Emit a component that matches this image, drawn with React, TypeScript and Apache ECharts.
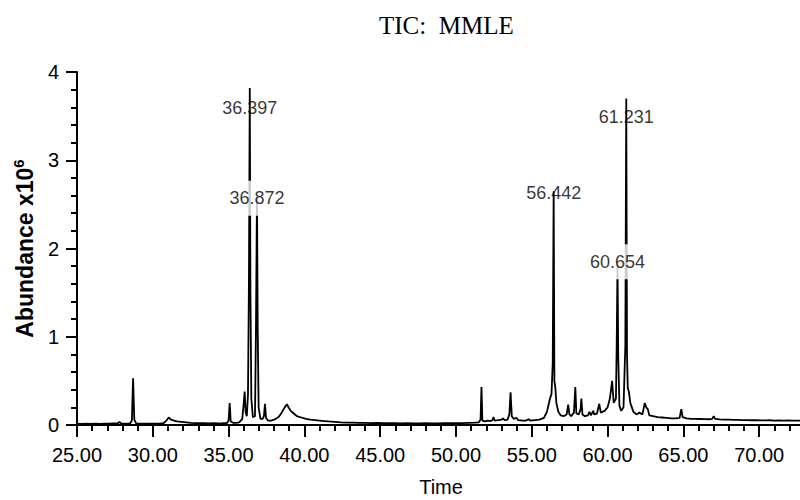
import React, { useEffect, useRef } from 'react';
import * as echarts from 'echarts';

// Total ion chromatogram: [retention time (min), abundance x10^6]
const ticEarly: number[][] = [
  [25.0, 0.015], [25.3, 0.012], [25.6, 0.016], [25.9, 0.013], [26.2, 0.015], [26.5, 0.012],
  [26.8, 0.016], [27.1, 0.014], [27.4, 0.017], [27.7, 0.02], [27.8, 0.035], [27.9, 0.018],
  [28.2, 0.016], [28.5, 0.017], [28.62, 0.05], [28.7, 0.53], [28.78, 0.06], [28.9, 0.018],
  [29.2, 0.015], [29.5, 0.016], [29.8, 0.014], [30.1, 0.016], [30.4, 0.015], [30.7, 0.02],
  [30.9, 0.05], [31.05, 0.085], [31.2, 0.06], [31.4, 0.05], [31.6, 0.04], [31.9, 0.035],
  [32.2, 0.03], [32.5, 0.025], [32.8, 0.022], [33.1, 0.02], [33.4, 0.021], [33.7, 0.018],
  [34.0, 0.02], [34.3, 0.019], [34.6, 0.02], [34.9, 0.022], [35.0, 0.05], [35.07, 0.25],
  [35.14, 0.04], [35.3, 0.025], [35.5, 0.024], [35.7, 0.03], [35.9, 0.07], [36.0, 0.25],
  [36.06, 0.38], [36.12, 0.15], [36.2, 0.1],
];

const ticMainPeaks: number[][] = [
  [36.28, 0.35], [36.34, 1.6], [36.397, 3.82], [36.44, 1.5], [36.5, 0.3], [36.6, 0.09],
  [36.74, 0.1], [36.8, 1.0], [36.872, 2.6], [36.92, 1.1], [36.98, 0.2], [37.1, 0.07],
  [37.25, 0.07], [37.33, 0.1], [37.4, 0.24], [37.47, 0.08], [37.6, 0.05], [37.8, 0.05],
  [38.0, 0.06], [38.3, 0.09], [38.5, 0.14], [38.7, 0.2], [38.85, 0.235], [38.95, 0.2],
  [39.1, 0.16], [39.3, 0.13], [39.5, 0.1], [39.8, 0.085],
];

const ticMiddle: number[][] = [
  [40.1, 0.07], [40.4, 0.06], [40.7, 0.055], [41.0, 0.05], [41.3, 0.045], [41.6, 0.04],
  [42.0, 0.035], [42.4, 0.03], [42.8, 0.028], [43.2, 0.026], [43.6, 0.024], [44.0, 0.025],
  [44.4, 0.022], [44.8, 0.023], [45.2, 0.02], [45.6, 0.021], [46.0, 0.022], [46.4, 0.019],
  [46.8, 0.02], [47.2, 0.019], [47.6, 0.018], [48.0, 0.02], [48.4, 0.019], [48.8, 0.018],
  [49.2, 0.02], [49.6, 0.021], [50.0, 0.022], [50.4, 0.021], [50.8, 0.024], [51.2, 0.026],
  [51.5, 0.03], [51.62, 0.06], [51.68, 0.43], [51.74, 0.05], [51.9, 0.04], [52.1, 0.05],
  [52.3, 0.045], [52.42, 0.06], [52.47, 0.09], [52.55, 0.05], [52.8, 0.055], [53.0, 0.06],
  [53.1, 0.075], [53.2, 0.055], [53.4, 0.06], [53.52, 0.12], [53.6, 0.37], [53.68, 0.1],
  [53.8, 0.07], [54.0, 0.08], [54.1, 0.055], [54.4, 0.05], [54.6, 0.05], [54.8, 0.065],
  [54.9, 0.05], [55.2, 0.055], [55.5, 0.06], [55.8, 0.08],
];

const ticLate: number[][] = [
  [56.0, 0.15], [56.2, 0.3], [56.3, 0.35], [56.38, 0.7], [56.442, 2.65], [56.49, 0.5],
  [56.55, 0.43], [56.62, 0.25], [56.75, 0.15], [56.9, 0.11], [57.1, 0.1], [57.3, 0.12],
  [57.4, 0.23], [57.48, 0.12], [57.6, 0.1], [57.78, 0.14], [57.87, 0.43], [57.94, 0.13],
  [58.1, 0.12], [58.22, 0.18], [58.27, 0.3], [58.34, 0.12], [58.5, 0.1], [58.7, 0.11],
  [58.8, 0.15], [58.9, 0.11], [59.05, 0.16], [59.12, 0.12], [59.3, 0.13], [59.45, 0.24],
  [59.55, 0.14], [59.8, 0.16], [60.0, 0.2], [60.15, 0.3], [60.3, 0.5], [60.4, 0.25],
  [60.55, 0.3], [60.6, 0.9], [60.654, 1.85], [60.7, 0.8], [60.78, 0.22], [60.9, 0.16],
  [61.05, 0.2], [61.17, 0.9], [61.231, 3.7], [61.28, 0.8], [61.33, 0.42], [61.4, 0.38],
  [61.5, 0.25], [61.6, 0.2], [61.7, 0.15], [61.9, 0.12], [62.1, 0.14], [62.3, 0.12],
  [62.45, 0.25], [62.55, 0.2], [62.65, 0.18], [62.75, 0.11],
];

const ticTail: number[][] = [
  [63.0, 0.1], [63.3, 0.09], [63.6, 0.085], [63.9, 0.08], [64.2, 0.075], [64.5, 0.075],
  [64.75, 0.08], [64.86, 0.18], [64.95, 0.09], [65.2, 0.075], [65.5, 0.07], [65.8, 0.07],
  [66.1, 0.068], [66.4, 0.066], [66.7, 0.065], [66.9, 0.07], [67.0, 0.1], [67.1, 0.07],
  [67.4, 0.063], [67.7, 0.06], [68.0, 0.06], [68.3, 0.058], [68.6, 0.057], [68.9, 0.055],
  [69.2, 0.056], [69.5, 0.054], [69.8, 0.055], [70.1, 0.053], [70.4, 0.052], [70.7, 0.054],
  [71.0, 0.05], [71.3, 0.052], [71.6, 0.05], [71.9, 0.051], [72.2, 0.049], [72.5, 0.05],
  [72.8, 0.048], [73.1, 0.049],
];

// Peak annotations: retention time and the abundance at which the label sits
const peakLabelTimes = [36.397, 36.872, 56.442, 60.654, 61.231];
const peakLabelAnchors = [3.59, 2.57, 2.63, 1.85, 3.49];

const xTicks = { min: 25, max: 75, interval: 5 };
const yTicks = { min: 0, max: 4, interval: 1 };

const SANS = '"Liberation Sans", Arial, sans-serif';

export default function App() {
  const ref = useRef<HTMLDivElement>(null);

  useEffect(() => {
    const chart = echarts.init(ref.current!, null, { renderer: 'svg' });
    const tic = [...ticEarly, ...ticMainPeaks, ...ticMiddle, ...ticLate, ...ticTail];
    const boxed = new Set([36.872, 60.654]);
    const labelData = peakLabelTimes.map((t, i) => ({
      value: [t, peakLabelAnchors[i]],
      label: boxed.has(t)
        ? { backgroundColor: '#ffffff', padding: [9, 1, 8, 1] }
        : { backgroundColor: 'transparent', padding: 0 },
    }));

    chart.setOption({
      animation: false,
      backgroundColor: '#ffffff',
      title: {
        text: 'TIC:  MMLE',
        left: 374,
        top: 8,
        textStyle: {
          fontFamily: '"Liberation Serif", "DejaVu Serif", serif',
          fontSize: 25,
          fontWeight: 'normal',
          color: '#000',
        },
      },
      grid: { left: 77, right: -35, top: 72, bottom: 75, containLabel: false, outerBoundsMode: 'none' },
      xAxis: {
        type: 'value',
        min: xTicks.min,
        max: xTicks.max,
        interval: xTicks.interval,
        name: 'Time',
        nameLocation: 'middle',
        nameGap: 52,
        nameTextStyle: { fontFamily: SANS, fontSize: 20, color: '#000', padding: [0, 30, 0, 0] },
        axisLine: { show: true, lineStyle: { color: '#000', width: 2 } },
        axisTick: { show: true, length: 12, lineStyle: { color: '#000', width: 2 } },
        minorTick: { show: true, splitNumber: 5, length: 6, lineStyle: { color: '#000', width: 2 } },
        axisLabel: {
          formatter: (v: number) => v.toFixed(2),
          fontFamily: SANS,
          fontSize: 20,
          color: '#000',
          margin: 20,
          showMaxLabel: false,
        },
        splitLine: { show: false },
      },
      yAxis: {
        type: 'value',
        min: yTicks.min,
        max: yTicks.max,
        interval: yTicks.interval,
        name: '{a|Abundance x10}{s|6}',
        nameLocation: 'middle',
        nameGap: 34,
        nameTextStyle: {
          rich: {
            a: { fontFamily: SANS, fontSize: 23, fontWeight: 'bold', color: '#000', lineHeight: 28 },
            s: { fontFamily: SANS, fontSize: 15, fontWeight: 'bold', color: '#000', verticalAlign: 'top', lineHeight: 16 },
          },
        },
        axisLine: { show: true, lineStyle: { color: '#000', width: 2 } },
        axisTick: { show: true, length: 11, lineStyle: { color: '#000', width: 2 } },
        minorTick: { show: true, splitNumber: 5, length: 6, lineStyle: { color: '#000', width: 2 } },
        axisLabel: { fontFamily: SANS, fontSize: 20, color: '#000', margin: 18 },
        splitLine: { show: false },
      },
      series: [
        {
          type: 'line',
          data: tic,
          showSymbol: false,
          symbol: 'none',
          lineStyle: { color: '#000', width: 1.8 },
          z: 2,
        },
        {
          type: 'scatter',
          data: labelData,
          symbolSize: 0,
          z: 5,
          silent: true,
          itemStyle: { color: '#000' },
          label: {
            show: true,
            position: 'inside',
            formatter: (p: any) => p.value[0].toFixed(3),
            fontFamily: SANS,
            fontSize: 18,
            color: '#000',
            textBorderWidth: 0,
          },
        },
      ],
    });
    return () => chart.dispose();
  }, []);

  return (
    <div
      ref={ref}
      style={{ position: 'fixed', left: 0, top: 0, width: 800, height: 500, background: '#fff' }}
    />
  );
}
